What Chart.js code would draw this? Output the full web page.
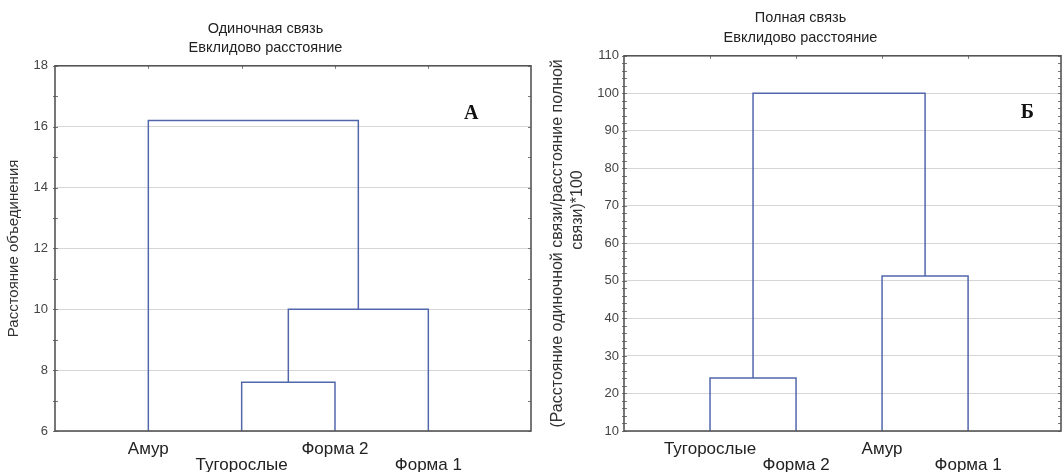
<!DOCTYPE html>
<html>
<head>
<meta charset="utf-8">
<script src="https://cdn.jsdelivr.net/npm/chart.js@4"></script>
<style>
  html, body { margin: 0; padding: 0; background: #ffffff; width: 1062px; height: 472px; overflow: hidden; }
  canvas { position: absolute; top: 0; }
  #cLeft { left: 0; }
  #cRight { left: 540px; }
</style>
</head>
<body>
<canvas id="cLeft" width="532" height="472"></canvas>
<canvas id="cRight" width="522" height="472"></canvas>
<script>
// ---------- data: left panel (single linkage) ----------
const leftTitle = ['Одиночная связь', 'Евклидово расстояние'];
const leftAxisTitle = 'Расстояние объединения';
const leftLeaves = ['Амур', 'Тугорослые', 'Форма 2', 'Форма 1'];
// node ids: leaves 0..3, joins 4,5,6
const leftJoinA = [1, 4, 0];
const leftJoinB = [2, 3, 5];
const leftJoinHeight = [7.6, 10.0, 16.2];
const leftYTicks = [6, 8, 10, 12, 14, 16, 18];
const leftLetter = 'А';

// ---------- data: right panel (complete linkage) ----------
const rightTitle = ['Полная связь', 'Евклидово расстояние'];
const rightAxisTitle = ['(Расстояние одиночной связи/расстояние полной', '               связи)*100'];
const rightLeaves = ['Тугорослые', 'Форма 2', 'Амур', 'Форма 1'];
const rightJoinA = [0, 2, 4];
const rightJoinB = [1, 3, 5];
const rightJoinHeight = [24.1, 51.3, 100.0];
const rightYTicks = [10, 20, 30, 40, 50, 60, 70, 80, 90, 100, 110];
const rightLetter = 'Б';

const FONT = '"Liberation Sans", Arial, sans-serif';
const LINE_COLOR = 'rgb(82, 102, 172)';

function buildLinks(leaves, joinA, joinB, heights, base) {
  const nodeX = leaves.map((_, i) => i + 1);
  const nodeH = leaves.map(() => base);
  const sets = [];
  heights.forEach((h, i) => {
    const a = joinA[i], b = joinB[i];
    const xa = nodeX[a], xb = nodeX[b];
    sets.push({
      data: [{x: xa, y: nodeH[a]}, {x: xa, y: h}, {x: xb, y: h}, {x: xb, y: nodeH[b]}],
      showLine: true,
      borderColor: LINE_COLOR,
      borderWidth: 1.5,
      pointRadius: 0,
      tension: 0,
      fill: false
    });
    nodeX.push((xa + xb) / 2);
    nodeH.push(h);
  });
  return sets;
}

const framePlugin = {
  id: 'frame',
  afterDraw(chart, args, opts) {
    const {ctx, chartArea: a, scales} = chart;
    const x = scales.x, y = scales.y;
    ctx.save();
    ctx.strokeStyle = '#777';
    ctx.lineWidth = 1;
    for (let v = y.min; v <= y.max + 1e-9; v += opts.minorStep) {
      const py = Math.round(y.getPixelForValue(v)) + 0.5;
      ctx.beginPath();
      ctx.moveTo(a.left - 2, py); ctx.lineTo(a.left + 3, py);
      ctx.moveTo(a.right - 3, py); ctx.lineTo(a.right, py);
      ctx.stroke();
    }
    x.ticks.forEach(t => {
      const px = Math.round(x.getPixelForValue(t.value)) + 0.5;
      ctx.beginPath();
      ctx.moveTo(px, a.top); ctx.lineTo(px, a.top + 3);
      ctx.stroke();
    });
    ctx.strokeStyle = '#555';
    ctx.lineWidth = 1.6;
    ctx.strokeRect(a.left, a.top, a.right - a.left, a.bottom - a.top);
    ctx.font = 'bold 20px "Liberation Serif", "Times New Roman", serif';
    ctx.fillStyle = '#111';
    ctx.textAlign = 'center';
    ctx.textBaseline = 'middle';
    ctx.fillText(opts.letter, x.getPixelForValue(opts.letterX), y.getPixelForValue(opts.letterY));
    ctx.restore();
  }
};

function makeChart(id, cfg) {
  const leaves = cfg.leaves;
  return new Chart(document.getElementById(id), {
    type: 'scatter',
    data: { datasets: buildLinks(leaves, cfg.joinA, cfg.joinB, cfg.heights, cfg.yTicks[0]) },
    options: {
      responsive: false,
      animation: false,
      layout: { padding: { left: 0, right: 1, top: 0, bottom: 0 } },
      plugins: {
        legend: { display: false },
        tooltip: { enabled: false },
        title: {
          display: true,
          text: cfg.title,
          color: '#222',
          font: { family: FONT, size: 14.5, weight: 'normal', lineHeight: '19.5px' },
          padding: cfg.titlePadding
        },
        frame: { minorStep: cfg.minorStep, letter: cfg.letter, letterX: cfg.letterX, letterY: cfg.letterY }
      },
      scales: {
        x: {
          type: 'linear',
          min: 0,
          max: cfg.xMax,
          grid: { display: false, drawTicks: false },
          border: { display: false },
          afterBuildTicks: s => { s.ticks = leaves.map((_, i) => ({ value: i + 1 })); },
          afterFit: s => { s.height = 41; },
          ticks: {
            autoSkip: false,
            maxRotation: 0,
            minRotation: 0,
            padding: 10,
            color: '#222',
            font: { family: FONT, size: 17, lineHeight: '16px' },
            callback: (v, i) => (i % 2 === 0 ? [leaves[i], ''] : ['', leaves[i]])
          }
        },
        y: {
          type: 'linear',
          min: cfg.yTicks[0],
          max: cfg.yTicks[cfg.yTicks.length - 1],
          afterBuildTicks: s => { s.ticks = cfg.yTicks.map(v => ({ value: v })); },
          afterFit: s => { s.width = cfg.yWidth; },
          grid: { color: '#d6d6d6', lineWidth: 1, drawTicks: false },
          border: { display: false },
          ticks: {
            padding: cfg.tickPad,
            color: '#444',
            font: { family: FONT, size: 13 }
          },
          title: {
            display: true,
            text: cfg.axisTitle,
            color: '#333',
            font: { family: FONT, size: cfg.axisTitleSize, lineHeight: cfg.axisTitleLH },
            padding: { top: cfg.axisTitlePad, bottom: 0 }
          }
        }
      }
    },
    plugins: [framePlugin]
  });
}

makeChart('cLeft', {
  leaves: leftLeaves, joinA: leftJoinA, joinB: leftJoinB, heights: leftJoinHeight,
  yTicks: leftYTicks, title: leftTitle, axisTitle: leftAxisTitle,
  titlePadding: { top: 19.2, bottom: 7.6 }, yWidth: 55, tickPad: 7,
  axisTitleSize: 15, axisTitleLH: '19.5px', axisTitlePad: 4.2,
  xMax: 5.1, minorStep: 1, letter: leftLetter, letterX: 4.46, letterY: 16.42
});

makeChart('cRight', {
  leaves: rightLeaves, joinA: rightJoinA, joinB: rightJoinB, heights: rightJoinHeight,
  yTicks: rightYTicks, title: rightTitle, axisTitle: rightAxisTitle,
  titlePadding: { top: 8.5, bottom: 8.3 }, yWidth: 84, tickPad: 5,
  axisTitleSize: 16, axisTitleLH: '20px', axisTitlePad: 8,
  xMax: 5.08, minorStep: 2, letter: rightLetter, letterX: 4.69, letterY: 94.8
});
</script>
</body>
</html>
